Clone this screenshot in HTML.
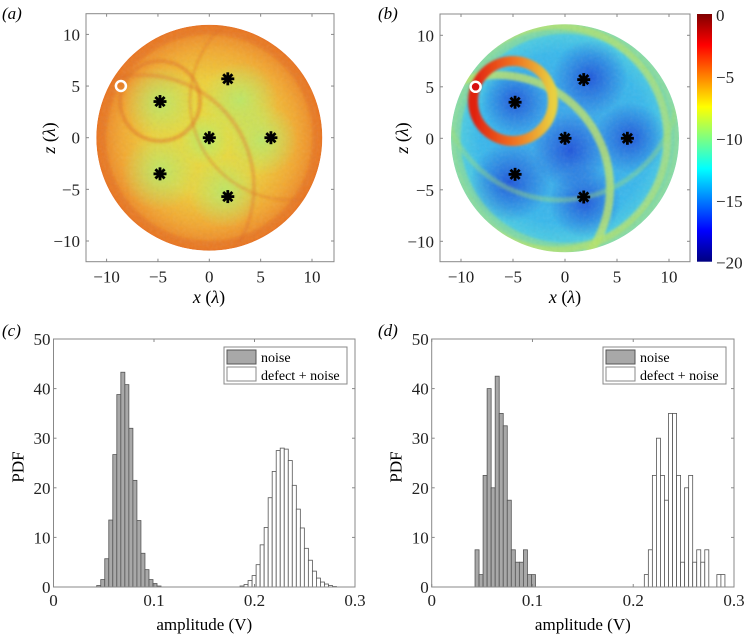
<!DOCTYPE html>
<html><head><meta charset="utf-8">
<style>
html,body{margin:0;padding:0;background:#fff;}
svg{display:block;font-family:"Liberation Serif",serif;}
.tk{font-size:17px;fill:#222;}
.ax{fill:none;stroke:#888;stroke-width:1;}
</style></head>
<body>
<svg id="fig" width="746" height="635" viewBox="0 0 746 635" xmlns="http://www.w3.org/2000/svg">
<defs>
  <radialGradient id="gA" cx="50%" cy="50%" r="50%">
    <stop offset="0" stop-color="#e4e040"/>
    <stop offset="0.5" stop-color="#eed03a"/>
    <stop offset="0.78" stop-color="#f2a830"/>
    <stop offset="0.93" stop-color="#ee8a28"/>
    <stop offset="1" stop-color="#e8701e"/>
  </radialGradient>
  <radialGradient id="gB" cx="50%" cy="50%" r="50%">
    <stop offset="0" stop-color="#3aa0ea"/>
    <stop offset="0.75" stop-color="#38b8ec"/>
    <stop offset="0.95" stop-color="#50d0e0"/>
    <stop offset="1" stop-color="#80dcb8"/>
  </radialGradient>
  <radialGradient id="blobB"><stop offset="0" stop-color="#1a48d8" stop-opacity="0.85"/><stop offset="1" stop-color="#1a48d8" stop-opacity="0"/></radialGradient>
  <radialGradient id="blobA"><stop offset="0" stop-color="#b0ec70" stop-opacity="0.8"/><stop offset="1" stop-color="#b0ec70" stop-opacity="0"/></radialGradient>
  <linearGradient id="ringG" x1="0" y1="0" x2="1" y2="0">
    <stop offset="0" stop-color="#e02010"/><stop offset="0.5" stop-color="#f07020"/><stop offset="1" stop-color="#e8d040"/>
  </linearGradient>
  <linearGradient id="cbar" x1="0" y1="0" x2="0" y2="1">
    <stop offset="0" stop-color="#800000"/><stop offset="0.125" stop-color="#ff0000"/>
    <stop offset="0.375" stop-color="#ffff00"/><stop offset="0.625" stop-color="#00ffff"/>
    <stop offset="0.875" stop-color="#0000ff"/><stop offset="1" stop-color="#000080"/>
  </linearGradient>
  <filter id="noise" x="0" y="0" width="100%" height="100%">
    <feTurbulence type="fractalNoise" baseFrequency="0.3" numOctaves="2" seed="3"/>
    <feColorMatrix type="saturate" values="0"/>
    <feComponentTransfer><feFuncA type="linear" slope="0.12"/></feComponentTransfer>
  </filter>
  <filter id="soft"><feGaussianBlur stdDeviation="1.2"/></filter>
  <clipPath id="clipA"><circle cx="209.3" cy="137.7" r="113"/></clipPath>
  <clipPath id="clipB"><circle cx="565" cy="138.3" r="114"/></clipPath>
</defs>

<g>
  <text x="2" y="19" font-size="17" font-style="italic">(a)</text>
  <g clip-path="url(#clipA)">
    <circle cx="209.3" cy="137.7" r="113" fill="url(#gA)"/>
    <circle cx="160" cy="102" r="36" fill="url(#blobA)"/>
    <circle cx="240" cy="100" r="38" fill="url(#blobA)"/>
    <circle cx="262" cy="140" r="36" fill="url(#blobA)"/>
    <circle cx="160" cy="172" r="38" fill="url(#blobA)"/>
    <circle cx="225" cy="192" r="36" fill="url(#blobA)"/>
    <circle cx="205" cy="140" r="26" fill="url(#blobA)"/>
    <g filter="url(#soft)">
    <circle cx="160" cy="101" r="40" fill="none" stroke="#e07020" stroke-width="4" opacity="0.5"/>
    <circle cx="142" cy="187" r="112" fill="none" stroke="#e07020" stroke-width="4" opacity="0.4"/>
    <circle cx="290" cy="100" r="100" fill="none" stroke="#e07020" stroke-width="3" opacity="0.35"/>
    <circle cx="209.3" cy="137.7" r="106" fill="none" stroke="#e06018" stroke-width="6" opacity="0.35"/>
    </g>
    <rect x="90" y="20" width="240" height="240" filter="url(#noise)"/>
  </g>
  <circle cx="120.9" cy="86" r="5" fill="none" stroke="#fff" stroke-width="2.5"/>
  <g id="starsA"></g>
  <rect x="86" y="13.7" width="248" height="248" class="ax"/>
  <g id="ticksA"></g>
  <text x="209" y="303" font-size="18" text-anchor="middle"><tspan font-style="italic">x</tspan> (<tspan font-style="italic">λ</tspan>)</text>
  <text transform="translate(55,138) rotate(-90)" font-size="18" text-anchor="middle"><tspan font-style="italic">z</tspan> (<tspan font-style="italic">λ</tspan>)</text>
</g>

<g>
  <text x="378" y="19" font-size="17" font-style="italic">(b)</text>
  <g clip-path="url(#clipB)">
    <circle cx="565" cy="138.3" r="114" fill="url(#gB)"/>
    <circle cx="515" cy="101" r="34" fill="url(#blobB)"/>
    <circle cx="590" cy="78" r="38" fill="url(#blobB)"/>
    <circle cx="630" cy="138" r="36" fill="url(#blobB)"/>
    <circle cx="570" cy="150" r="38" fill="url(#blobB)"/>
    <circle cx="585" cy="202" r="36" fill="url(#blobB)"/>
    <circle cx="510" cy="182" r="40" fill="url(#blobB)"/>
    <g filter="url(#soft)">
    <circle cx="497" cy="188" r="113" fill="none" stroke="#c8e860" stroke-width="8" opacity="0.75"/>
    <circle cx="555" cy="138" r="112" fill="none" stroke="#c8e860" stroke-width="7" opacity="0.65"/>
    <circle cx="565" cy="138.3" r="109" fill="none" stroke="#a8e070" stroke-width="9" opacity="0.5"/>
    <circle cx="560" cy="80" r="120" fill="none" stroke="#a0e070" stroke-width="5" opacity="0.4"/>
    </g>
    <rect x="448" y="20" width="240" height="240" filter="url(#noise)"/>
    <circle cx="513" cy="101" r="40" fill="none" stroke="url(#ringG)" stroke-width="10" filter="url(#soft)"/>
  </g>
  <circle cx="475.6" cy="86.8" r="5" fill="#d81010" stroke="#fff" stroke-width="2.5"/>
  <g id="starsB"></g>
  <rect x="440" y="14" width="250" height="247.7" class="ax"/>
  <g id="ticksB"></g>
  <text x="565" y="303" font-size="18" text-anchor="middle"><tspan font-style="italic">x</tspan> (<tspan font-style="italic">λ</tspan>)</text>
  <text transform="translate(408,138) rotate(-90)" font-size="18" text-anchor="middle"><tspan font-style="italic">z</tspan> (<tspan font-style="italic">λ</tspan>)</text>
  <rect x="697" y="14" width="15" height="247.7" fill="url(#cbar)"/>
  <g id="cbTicks"></g>
</g>

<g id="panelC">
  <text x="2" y="336" font-size="17" font-style="italic">(c)</text>
</g>
<g id="panelD">
  <text x="378" y="336" font-size="17" font-style="italic">(d)</text>
</g>
</svg>
<script>
const defectX = [1.8, -4.8, 0, 6, -4.8, 1.8];
const defectZ = [5.7, 3.5, 0, 0, -3.5, -5.7];
const mapTicks = [-10, -5, 0, 5, 10];
const cbTickVals = [0, -5, -10, -15, -20];
const binWidth = 0.004;
const cNoiseStart = 0.043;
const cNoise = [0.3,1.5,5.7,13.5,26.7,38.8,43.3,40.8,32,21.5,13.4,6.8,3.5,1.5,0.7,0.2];
const cDefectStart = 0.1856;
const cDefect = [0.2,0.5,1.3,2.3,4.5,8.5,12,18,23.3,27.5,28,27.8,25.5,20.5,15.7,11.9,7.8,5.4,3.2,1.8,1,0.6,0.3,0.1];
const dNoiseStart = 0.043;
const dNoise = [7.5,2.5,22.5,40,20,42.5,35,32.5,17.5,7.5,5,5,7.5,2.5,2.5];
const dDefectStart = 0.211;
const dDefect = [2.5,7.5,22.5,30,22.5,17.5,35,35,22.5,5,20,22.5,5,7.5,5,7.5,0,0,2.5,2.5];
const histXTicks = [0, 0.1, 0.2, 0.3];
const histXLabels = ['0', '0.1', '0.2', '0.3'];
const histYTicks = [0, 10, 20, 30, 40, 50];

const NS = 'http://www.w3.org/2000/svg';
function mk(tag, attrs, parent){const e=document.createElementNS(NS,tag);for(const k in attrs)e.setAttribute(k,attrs[k]);parent.appendChild(e);return e;}

function star(g,cx,cy){
  const s=mk('g',{},g);
  
  
  for(let i=0;i<4;i++){const a=i*Math.PI/4;
    mk('line',{x1:cx-6.5*Math.cos(a),y1:cy-6.5*Math.sin(a),x2:cx+6.5*Math.cos(a),y2:cy+6.5*Math.sin(a),stroke:'#000','stroke-width':2.8},s);}
}
function mapPanel(cx0,cz0,sx,sz,box,starsId,ticksId){
  const X=v=>cx0+v*sx, Z=v=>cz0-v*sz;
  const sg=document.getElementById(starsId);
  defectX.forEach((x,i)=>star(sg,X(x),Z(defectZ[i])));
  const tg=document.getElementById(ticksId);
  
  
  mapTicks.forEach(t=>{
    const x=X(t), z=Z(t);
    mk('line',{x1:x,y1:box.b,x2:x,y2:box.b-3,stroke:'#888'},tg);
    mk('line',{x1:x,y1:box.t,x2:x,y2:box.t+3,stroke:'#888'},tg);
    mk('line',{x1:box.l,y1:z,x2:box.l+3,y2:z,stroke:'#888'},tg);
    mk('line',{x1:box.r,y1:z,x2:box.r-3,y2:z,stroke:'#888'},tg);
    const lab=t<0?'\u2212'+(-t):String(t);
    const tx=mk('text',{x:x,y:box.b+21,'text-anchor':'middle',class:'tk'},tg); tx.textContent=lab;
    
    
    const ty=mk('text',{x:box.l-6,y:z+6,'text-anchor':'end',class:'tk'},tg); ty.textContent=lab;
    
    
  });
}
mapPanel(209.3,137.7,10.27,10.33,{l:86,r:334,t:13.7,b:261.7},'starsA','ticksA');
mapPanel(565,138.3,10.4,10.3,{l:440,r:690,t:14,b:261.7},'starsB','ticksB');

const cb=document.getElementById('cbTicks');
cbTickVals.forEach(v=>{
  const y=14+(-v/20)*247.7;
  const t=mk('text',{x:716,y:y+7,class:'tk'},cb);
  t.textContent=v<0?'\u2212'+(-v):'0';
  
  
});

function hist(gid,x0,x1,noiseStart,noise,defStart,defect,legX){
  const g=document.getElementById(gid);
  const top=339, bot=587;
  const X=v=>x0+v/0.3*(x1-x0), Y=v=>bot-v/50*(bot-top);
  mk('line',{x1:x0+8,y1:bot,x2:x1-2,y2:bot,stroke:'#555','stroke-width':1},g);
  function bars(start,vals,fill,name){
    vals.forEach((v,i)=>{
      if(v<=0) return;
      const a=X(start+i*binWidth), b=X(start+(i+1)*binWidth);
      const r=mk('rect',{x:a,y:Y(v),width:b-a,height:Y(0)-Y(v),fill:fill,stroke:'#555','stroke-width':0.8},g);
      
      
    });
  }
  bars(noiseStart,noise,'#a8a8a8','noise-bar');
  bars(defStart,defect,'#ffffff','defect-bar');
  const ax=mk('rect',{x:x0,y:top,width:x1-x0,height:bot-top,class:'ax'},g);
  
  
  histXTicks.forEach((t,i)=>{
    const x=X(t);
    mk('line',{x1:x,y1:bot,x2:x,y2:bot-3,stroke:'#888'},g);
    mk('line',{x1:x,y1:top,x2:x,y2:top+3,stroke:'#888'},g);
    const tx=mk('text',{x:x,y:606,'text-anchor':'middle',class:'tk'},g); tx.textContent=histXLabels[i];
    
    
  });
  histYTicks.forEach(t=>{
    const y=Y(t);
    mk('line',{x1:x0,y1:y,x2:x0+3,y2:y,stroke:'#888'},g);
    mk('line',{x1:x1,y1:y,x2:x1-3,y2:y,stroke:'#888'},g);
    const ty=mk('text',{x:x0-3,y:y+6,'text-anchor':'end',class:'tk'},g); ty.textContent=String(t);
    
    
  });
  const xl=mk('text',{x:(x0+x1)/2,y:630,'text-anchor':'middle','font-size':17},g); xl.textContent='amplitude (V)';
  
  
  const yl=mk('text',{transform:'translate('+(x0-30)+',467) rotate(-90)','text-anchor':'middle','font-size':17},g); yl.textContent='PDF';
  
  
  const lg=mk('g',{},g);
  
  
  mk('rect',{x:legX,y:347,width:123,height:37,fill:'#fff',stroke:'#888'},lg);
  mk('rect',{x:legX+3,y:350,width:29,height:14,fill:'#a8a8a8',stroke:'#555'},lg);
  mk('rect',{x:legX+3,y:367,width:29,height:14,fill:'#fff',stroke:'#888'},lg);
  const t1=mk('text',{x:legX+37,y:362,'font-size':14},lg); t1.textContent='noise';
  
  
  const t2=mk('text',{x:legX+37,y:380,'font-size':14},lg); t2.textContent='defect + noise';
  
  
}
hist('panelC',53.5,355,cNoiseStart,cNoise,cDefectStart,cDefect,224);
hist('panelD',431.7,734,dNoiseStart,dNoise,dDefectStart,dDefect,603);
</script>
</body></html>
